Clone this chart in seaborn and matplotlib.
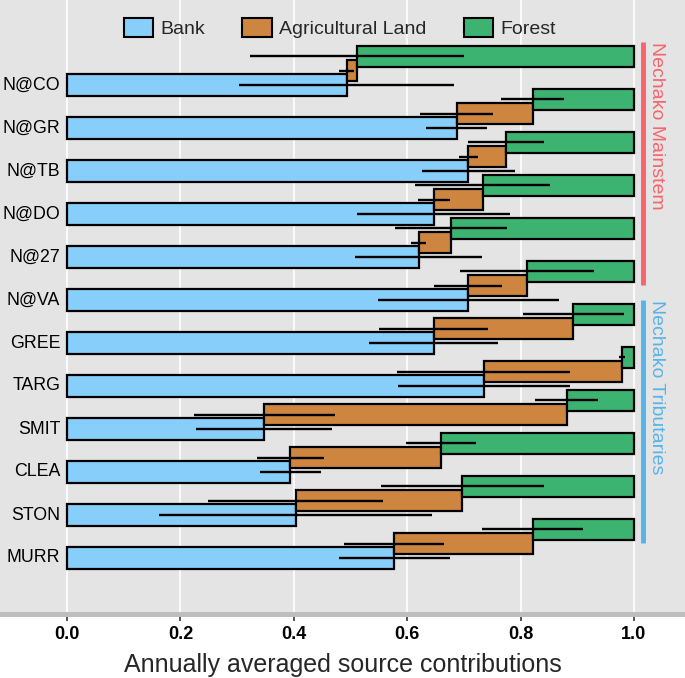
import numpy as np
import matplotlib
matplotlib.use("Agg")
import matplotlib.pyplot as plt
import seaborn as sns
from matplotlib.patches import Patch

# DATA

sites = ['N@CO', 'N@GR', 'N@TB', 'N@DO', 'N@27', 'N@VA',
         'GREE', 'TARG', 'SMIT', 'CLEA', 'STON', 'MURR']

bank = [0.493, 0.687, 0.708, 0.647, 0.620, 0.708,
        0.647, 0.735, 0.348, 0.394, 0.403, 0.577]
agri = [0.019, 0.134, 0.066, 0.086, 0.057, 0.103,
        0.246, 0.244, 0.533, 0.266, 0.294, 0.244]

bank_sd = [0.189, 0.054, 0.082, 0.135, 0.112, 0.159,
           0.114, 0.152, 0.120, 0.054, 0.241, 0.098]
agri_sd = [0.014, 0.064, 0.017, 0.028, 0.014, 0.060,
           0.096, 0.153, 0.124, 0.059, 0.155, 0.088]
forest_sd = [0.189, 0.056, 0.067, 0.119, 0.099, 0.118,
             0.089, 0.005, 0.055, 0.062, 0.144, 0.089]

groups = ['Nechako Mainstem', 'Nechako Tributaries']
group_rows = [(0, 5), (6, 11)]
group_colors = ['#F8646C', '#56B4E9']

sources = ['Bank', 'Agricultural Land', 'Forest']
colors = ['#87CEFA', '#CD853F', '#3CB371']

bank = np.array(bank)
agri = np.array(agri)
forest = 1 - bank - agri

# STYLE

sns.set_theme(style='darkgrid')
plt.rcParams['font.family'] = ['Liberation Sans', 'DejaVu Sans']

fig = plt.figure(figsize=(6.85, 6.78), dpi=100)
ax = fig.add_axes([0.0, 1 - 613.5 / 678, 1.0, 613.5 / 678])
ax.set_facecolor('#E4E4E4')

rows = np.arange(len(sites))
h = 0.5
off = 1 / 3

# BARS (bank at row, agri shifted up 1/3, forest shifted up 2/3)

ax.barh(rows, bank, height=h, left=0, color=colors[0],
        edgecolor='black', linewidth=1.6, zorder=3)
ax.barh(rows - off, agri, height=h, left=bank, color=colors[1],
        edgecolor='black', linewidth=1.6, zorder=3)
ax.barh(rows - 2 * off, forest, height=h, left=bank + agri, color=colors[2],
        edgecolor='black', linewidth=1.6, zorder=3)

# ERROR LINES

ax.hlines(rows, bank - bank_sd, bank + bank_sd, color='black', lw=1.7, zorder=4)
ax.hlines(rows - off, bank - agri_sd, bank + agri_sd, color='black', lw=1.7, zorder=4)
ax.hlines(rows - 2 * off, bank + agri - forest_sd, bank + agri + forest_sd,
          color='black', lw=1.7, zorder=4)

# SITE LABELS inside panel

for i, s in enumerate(sites):
    ax.text(-0.012, i, s, ha='right', va='center', fontsize=12.8, color='black')

# GROUP LINES + LABELS

for g, (r0, r1), c in zip(groups, group_rows, group_colors):
    y0 = r0 - 2 * off - h / 2 - 0.08
    y1 = r1 - 2 * off + h / 2 + 0.07
    ax.vlines(1.015, y0, y1, color=c, lw=3.5, zorder=3)
    ax.text(1.04, y0, g, rotation=-90, ha='center', va='top',
            fontsize=14, color=c)

# AXES

ax.set_xlim(-67 / 567, (685 - 67) / 567)
ax.set_ylim((613.5 - 85) / 43, -85 / 43)

ax.set_xticks([0.0, 0.2, 0.4, 0.6, 0.8, 1.0])
ax.set_xticklabels(['0.0', '0.2', '0.4', '0.6', '0.8', '1.0'],
                   fontsize=13, fontweight='bold')
ax.set_yticks([])
ax.grid(axis='x', color='white', linewidth=1.2)
ax.grid(axis='y', visible=False)

for side in ['top', 'left', 'right']:
    ax.spines[side].set_visible(False)
ax.spines['bottom'].set_visible(True)
ax.spines['bottom'].set_color('#BEBEBE')
ax.spines['bottom'].set_linewidth(3.6)

ax.tick_params(axis='x', bottom=True, length=5, width=1.2, color='#333333',
               pad=4, labelcolor='black')

ax.set_xlabel('Annually averaged source contributions', fontsize=18,
              labelpad=7)

# LEGEND

handles = [Patch(facecolor=c, edgecolor='black', linewidth=1.5, label=s)
           for s, c in zip(sources, colors)]
fig.legend(handles=handles, loc='center', ncol=3, frameon=False,
           bbox_to_anchor=(340 / 685, 1 - 28 / 678), fontsize=14,
           handlelength=1.5, handleheight=1.15, handletextpad=0.4,
           columnspacing=1.9)

plt.savefig('out.png', dpi=100)
